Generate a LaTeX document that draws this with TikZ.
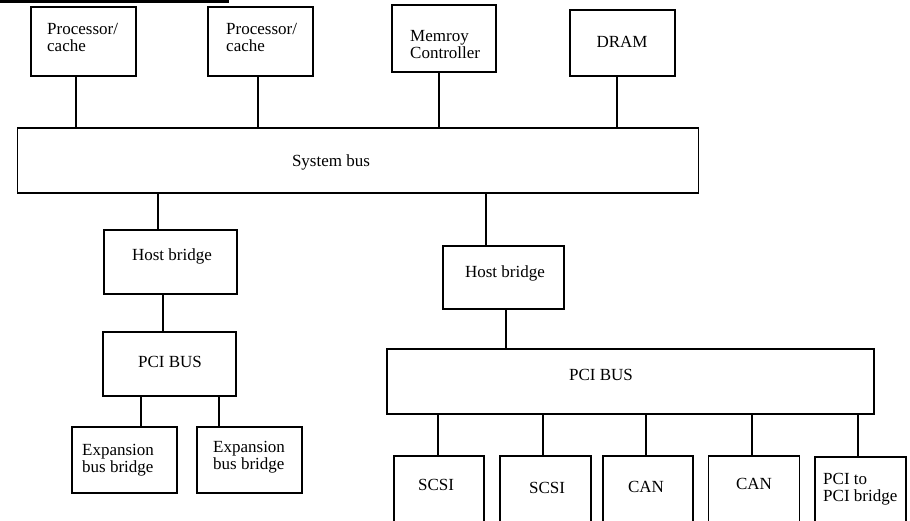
\documentclass[tikz,border=0pt]{standalone}
\usepackage{fontspec}
\setmainfont{Liberation Serif}
\begin{document}
\begin{tikzpicture}[x=1pt,y=-1pt,
  box/.style={draw, line width=1.3pt, rectangle, inner sep=0pt},
  lbl/.style={inner sep=0pt, font=\fontsize{17}{17}\selectfont, align=left},
  wire/.style={line width=1.3pt}]
\useasboundingbox (0,0) rectangle (910,520);
\clip (0,0) rectangle (910,520);
\fill[white] (0,0) rectangle (910,520);

% heading rule left over from the page above
\fill[black] (0,0) rectangle (229,3.2);

% top row: processors, memory controller, DRAM
\node[box, minimum width=105pt, minimum height=69pt] (p1) at (83.5,41.5) {};
\node[box, minimum width=105pt, minimum height=69pt] (p2) at (260.5,41.5) {};
\node[box, minimum width=104pt, minimum height=67pt] (mc) at (444,38.5) {};
\node[box, minimum width=105pt, minimum height=66pt] (dram) at (622.5,43) {};
% multi-line labels are placed by the baseline of their last line
\node[lbl, anchor=base west] (tp1) at (47,51) {Processor/\\cache};
\node[lbl, anchor=base west] (tp2) at (226,51) {Processor/\\cache};
\node[lbl, anchor=base west] (tmc) at (410,58) {Memroy\\Controller};
\node[lbl, anchor=base] (tdram) at (622,47) {DRAM};

% system bus
\node[box, minimum width=681pt, minimum height=65pt] (sys) at (358,160.5) {};
\node[lbl, anchor=base] (tsys) at (331,166) {System bus};

% left branch
\node[box, minimum width=133pt, minimum height=64pt] (hb1) at (170.5,262) {};
\node[lbl, anchor=base] (thb1) at (172,260) {Host bridge};
\node[box, minimum width=133pt, minimum height=64pt] (pci1) at (169.5,364) {};
\node[lbl, anchor=base] (tpci1) at (170,367) {PCI BUS};
\node[box, minimum width=105pt, minimum height=66pt] (ex1) at (124.5,460) {};
\node[box, minimum width=105pt, minimum height=66pt] (ex2) at (249.5,460) {};
\node[lbl, anchor=base west] (tex1) at (82,472) {Expansion\\bus bridge};
\node[lbl, anchor=base west] (tex2) at (213,469) {Expansion\\bus bridge};

% right branch
\node[box, minimum width=121pt, minimum height=63pt] (hb2) at (503.5,277.5) {};
\node[lbl, anchor=base] (thb2) at (505,277) {Host bridge};
\node[box, minimum width=487pt, minimum height=65pt] (pci2) at (630.5,381.5) {};
\node[lbl, anchor=base] (tpci2) at (601,380) {PCI BUS};

% devices on the right PCI bus (running off the lower edge)
\node[box, minimum width=90pt, minimum height=80pt] (d1) at (439,496) {};
\node[box, minimum width=91pt, minimum height=80pt] (d2) at (545.5,496) {};
\node[box, minimum width=90pt, minimum height=80pt] (d3) at (648,496) {};
\node[box, minimum width=91pt, minimum height=80pt] (d4) at (754,496) {};
\node[box, minimum width=91pt, minimum height=80pt] (d5) at (860.5,497) {};
\node[lbl, anchor=base] (td1) at (436,490) {SCSI};
\node[lbl, anchor=base] (td2) at (547,493) {SCSI};
\node[lbl, anchor=base] (td3) at (646,492) {CAN};
\node[lbl, anchor=base] (td4) at (754,489) {CAN};
\node[lbl, anchor=base west] (td5) at (823,501) {PCI to\\PCI bridge};

% connectors
\draw[wire] (76,0 |- p1.south) -- (76,0 |- sys.north);
\draw[wire] (258,0 |- p2.south) -- (258,0 |- sys.north);
\draw[wire] (439,0 |- mc.south) -- (439,0 |- sys.north);
\draw[wire] (617,0 |- dram.south) -- (617,0 |- sys.north);
\draw[wire] (158,0 |- sys.south) -- (158,0 |- hb1.north);
\draw[wire] (486,0 |- sys.south) -- (486,0 |- hb2.north);
\draw[wire] (163,0 |- hb1.south) -- (163,0 |- pci1.north);
\draw[wire] (141,0 |- pci1.south) -- (141,0 |- ex1.north);
\draw[wire] (219,0 |- pci1.south) -- (219,0 |- ex2.north);
\draw[wire] (506,0 |- hb2.south) -- (506,0 |- pci2.north);
\draw[wire] (438,0 |- pci2.south) -- (438,0 |- d1.north);
\draw[wire] (543,0 |- pci2.south) -- (543,0 |- d2.north);
\draw[wire] (646,0 |- pci2.south) -- (646,0 |- d3.north);
\draw[wire] (752,0 |- pci2.south) -- (752,0 |- d4.north);
\draw[wire] (858,0 |- pci2.south) -- (858,0 |- d5.north);
\end{tikzpicture}
\end{document}
